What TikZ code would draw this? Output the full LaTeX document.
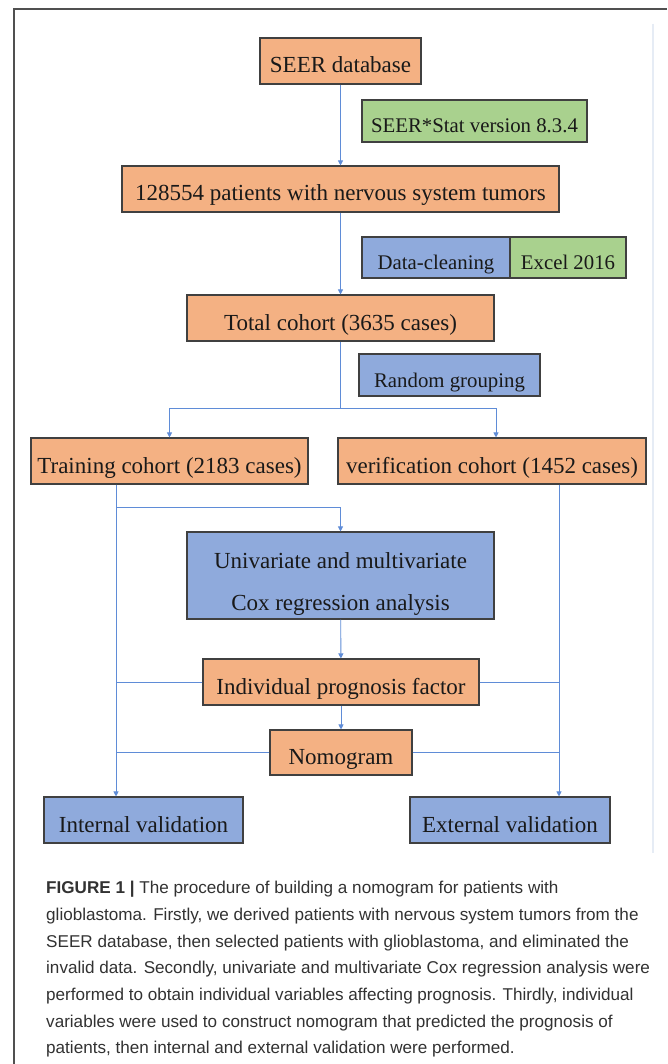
\documentclass[tikz,border=0pt]{standalone}
\usepackage{fontspec}
\setmainfont{Liberation Serif}
\newfontfamily\capfont{Liberation Sans}
\usetikzlibrary{arrows.meta}
\definecolor{oran}{RGB}{244,177,131}
\definecolor{gree}{RGB}{169,209,142}
\definecolor{blu}{RGB}{143,170,220}
\definecolor{conn}{RGB}{95,140,215}
\definecolor{bord}{RGB}{64,64,64}
\definecolor{txt}{RGB}{25,25,25}
\definecolor{captxt}{RGB}{50,50,50}
\tikzset{
  box/.style={draw=bord, line width=1.1pt, inner sep=0pt, text=txt,
    font=\fontsize{23}{24}\selectfont, text height=24pt, text depth=0pt},
  sidebox/.style={box, font=\fontsize{20.8}{24}\selectfont},
  obox/.style={box, fill=oran},
  gbox/.style={sidebox, fill=gree},
  bbox/.style={box, fill=blu},
  sbbox/.style={sidebox, fill=blu},
  conline/.style={draw=conn, line width=0.9pt},
  arr/.style={conline, -{Triangle[length=5pt,width=5pt]}},
}
\begin{document}
\begin{tikzpicture}[x=1pt,y=-1pt]
\useasboundingbox (0,0) rectangle (667,1064);
\fill[white] (0,0) rectangle (667,1064);
% frame
\draw[draw={rgb,255:red,80;green,80;blue,80}, line width=1.3pt] (14,1064) -- (14,9) -- (667,9);
\draw[draw={rgb,255:red,230;green,236;blue,245}, line width=1.6pt] (653,24) -- (653,853);

% boxes
\node[obox, minimum width=161pt, minimum height=46pt] (seer) at (340.5,61) {SEER database};
\node[gbox, minimum width=225pt, minimum height=42pt] (stat) at (474.5,121) {SEER*Stat version 8.3.4};
\node[obox, minimum width=437pt, minimum height=46pt] (pat) at (340.5,189) {128554 patients with nervous system tumors};
\node[sbbox, minimum width=148pt, minimum height=41pt] (clean) at (436,257.5) {Data-cleaning};
\node[gbox, minimum width=116pt, minimum height=41pt] (excel) at (568,257.5) {Excel 2016};
\node[obox, minimum width=307pt, minimum height=46pt] (total) at (340.5,318) {Total cohort (3635 cases)};
\node[sbbox, minimum width=181pt, minimum height=42pt] (rand) at (449.5,375) {Random grouping};
\node[obox, minimum width=277pt, minimum height=46pt] (train) at (169.5,461) {Training cohort (2183 cases)};
\node[obox, minimum width=308pt, minimum height=46pt] (verif) at (492,461) {verification cohort (1452 cases)};
\node[bbox, minimum width=307pt, minimum height=87pt, align=center,
  font=\fontsize{23}{42}\selectfont, text height=69pt, text depth=0pt] (uni) at (340.5,575.5)
  {Univariate and multivariate\\Cox regression analysis};
\node[obox, minimum width=276pt, minimum height=46pt] (ind) at (341,682) {Individual prognosis factor};
\node[obox, minimum width=142pt, minimum height=45pt] (nomo) at (341,752.5) {Nomogram};
\node[bbox, minimum width=199pt, minimum height=46pt] (intv) at (143.5,820) {Internal validation};
\node[bbox, minimum width=200pt, minimum height=46pt] (extv) at (510,820) {External validation};

% helper coordinates
\coordinate (split) at (340.5,408);
\coordinate (lx) at (116,0);
\coordinate (rx) at (559,0);
\coordinate (join) at (116,507);

% connectors
\draw[arr] (seer) -- (pat);
\draw[arr] (pat) -- (total);
\draw[conline] (total) -- (split);
\draw[arr] (split) -| (train.north);
\draw[arr] (split) -| (verif.north -| 496,0);
\draw[conline] (train.south -| lx) -- (join);
\draw[arr] (join) -| (uni.north);
\draw[arr] (train.south -| lx) -- (intv.north -| lx);
\draw[arr] (verif.south -| rx) -- (extv.north -| rx);
\draw[arr] (uni) -- (ind);
\draw[arr] (ind) -- (nomo);
\draw[conline] (ind.west) -- (ind.west -| lx);
\draw[conline] (ind.east) -- (ind.east -| rx);
\draw[conline] (nomo.west) -- (nomo.west -| lx);
\draw[conline] (nomo.east) -- (nomo.east -| rx);

% caption
\node[anchor=north west, inner sep=0pt, align=left, text=captxt,
  font=\capfont\fontsize{17.1}{26.7}\selectfont] (cap) at (46,881)
{{\bfseries FIGURE 1 |} The procedure of building a nomogram for patients with\\
glioblastoma. Firstly, we derived patients with nervous system tumors from the\\
SEER database, then selected patients with glioblastoma, and eliminated the\\
invalid data. Secondly, univariate and multivariate Cox regression analysis were\\
performed to obtain individual variables affecting prognosis. Thirdly, individual\\
variables were used to construct nomogram that predicted the prognosis of\\
patients, then internal and external validation were performed.};
\end{tikzpicture}
\end{document}
